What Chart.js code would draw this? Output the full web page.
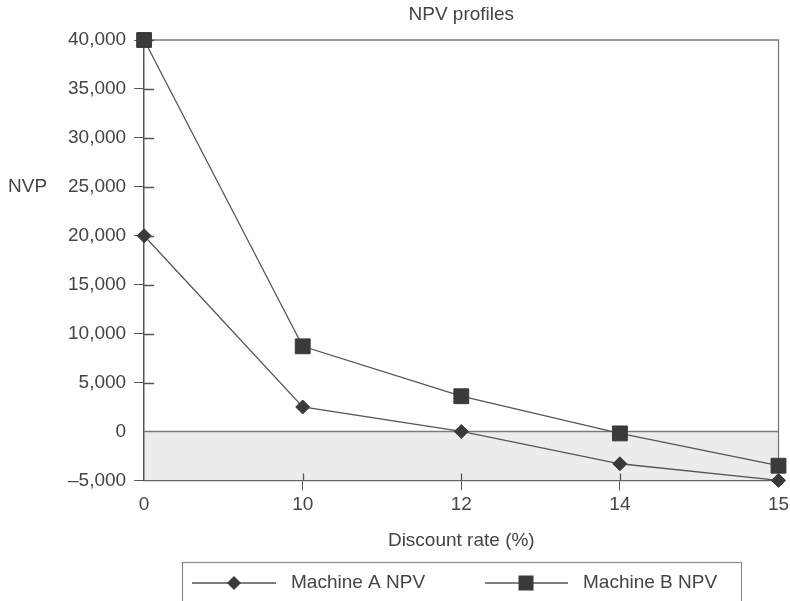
<!DOCTYPE html>
<html>
<head>
<meta charset="utf-8">
<title>NPV profiles</title>
<script src="https://cdn.jsdelivr.net/npm/chart.js"></script>
<style>
  body { margin: 0; background: #fff; }
  #wrap { width: 790px; height: 601px; position: relative; }
</style>
</head>
<body>
<div id="wrap"><canvas id="npvChart"></canvas></div>
<script>
// Discount rates (categories) and NPV values
const rates = ['0', '10', '12', '14', '15'];
const machineA = [20000, 2500, 0, -3300, -5000];
const machineB = [40000, 8700, 3600, -200, -3500];
const yMin = -5000;
const yMax = 40000;
const yStep = 5000;
const chartTitle = 'NPV profiles';

const textColor = '#444';
const lineColor = '#555';
const markColor = '#3a3a3a';

Chart.defaults.font.family = '"Liberation Sans", Arial, sans-serif';
Chart.defaults.font.size = 19;
Chart.defaults.color = textColor;

function fmt(v) {
    const s = Math.abs(v).toLocaleString('en-US');
    return v < 0 ? '\u2013' + s : s;
}

// shaded negative zone, plot frame, inner tick marks, titles and legend
const decorPlugin = {
    id: 'decor',
    beforeDraw(chart) {
        const { ctx, chartArea: a, scales: { y } } = chart;
        const y0 = y.getPixelForValue(0);
        const y1 = y.getPixelForValue(yMin);
        ctx.save();
        ctx.fillStyle = '#ececec';
        ctx.fillRect(a.left, y0, a.right - a.left, y1 - y0);
        ctx.restore();
    },
    beforeDatasetsDraw(chart) {
        const { ctx, chartArea: a, scales: { x, y } } = chart;
        ctx.save();
        ctx.strokeStyle = '#7a7a7a';
        ctx.lineWidth = 1.3;
        // top + right frame
        ctx.beginPath();
        ctx.moveTo(a.left, a.top);
        ctx.lineTo(a.right, a.top);
        ctx.lineTo(a.right, a.bottom);
        ctx.stroke();
        // zero line
        const y0 = Math.round(y.getPixelForValue(0)) + 0.5;
        ctx.beginPath();
        ctx.moveTo(a.left, y0);
        ctx.lineTo(a.right, y0);
        ctx.stroke();
        // inner ticks
        ctx.strokeStyle = '#555';
        ctx.beginPath();
        y.ticks.forEach(t => {
            if (t.value === 0 || t.value === yMin) return;
            const py = Math.round(y.getPixelForValue(t.value)) + 0.5;
            ctx.moveTo(a.left, py);
            ctx.lineTo(a.left + 10, py);
        });
        for (let i = 1; i < rates.length - 1; i++) {
            const px = Math.round(x.getPixelForValue(i)) + 0.5;
            ctx.moveTo(px, a.bottom);
            ctx.lineTo(px, a.bottom - 7);
        }
        ctx.stroke();
        ctx.restore();
    },
    afterDraw(chart) {
        const { ctx, chartArea: a, scales: { y } } = chart;
        ctx.save();
        ctx.fillStyle = textColor;
        ctx.font = '19px "Liberation Sans", Arial, sans-serif';
        ctx.textBaseline = 'middle';

        // title centred over the plot area
        ctx.textAlign = 'center';
        ctx.fillText(chartTitle, (a.left + a.right) / 2, 15);

        ctx.textAlign = 'left';
        ctx.fillText('NVP', 8, y.getPixelForValue(25000));

        // legend box
        ctx.strokeStyle = '#8a8a8a';
        ctx.lineWidth = 1.2;
        ctx.strokeRect(182.5, 562.5, 559, 60);
        const ly = 583;
        const items = [
            { label: chart.data.datasets[0].label, x1: 192, x2: 276, mx: 234, tx: 291, style: 'diamond' },
            { label: chart.data.datasets[1].label, x1: 485, x2: 568, mx: 526, tx: 583, style: 'square' }
        ];
        items.forEach(it => {
            ctx.strokeStyle = lineColor;
            ctx.lineWidth = 1.3;
            ctx.beginPath();
            ctx.moveTo(it.x1, ly);
            ctx.lineTo(it.x2, ly);
            ctx.stroke();
            ctx.fillStyle = markColor;
            ctx.beginPath();
            if (it.style === 'diamond') {
                ctx.moveTo(it.mx, ly - 7);
                ctx.lineTo(it.mx + 7, ly);
                ctx.lineTo(it.mx, ly + 7);
                ctx.lineTo(it.mx - 7, ly);
                ctx.closePath();
            } else {
                ctx.rect(it.mx - 7.5, ly - 7.5, 15, 15);
            }
            ctx.fill();
            ctx.fillStyle = textColor;
            ctx.fillText(it.label, it.tx, ly);
        });
        ctx.restore();
    }
};

const hideEdge = (ctx) => (ctx.index === 0 || ctx.index === rates.length - 1) ? 'rgba(0,0,0,0)' : '#555';

new Chart(document.getElementById('npvChart'), {
    type: 'line',
    data: {
        labels: rates,
        datasets: [{
            label: 'Machine A NPV',
            data: machineA,
            borderColor: lineColor,
            borderWidth: 1.3,
            pointStyle: 'rectRot',
            pointRadius: 7,
            pointBackgroundColor: markColor,
            pointBorderColor: markColor,
            pointBorderWidth: 1,
            tension: 0,
            clip: false
        }, {
            label: 'Machine B NPV',
            data: machineB,
            borderColor: lineColor,
            borderWidth: 1.3,
            pointStyle: 'rect',
            pointRadius: 10.5,
            pointBackgroundColor: markColor,
            pointBorderColor: markColor,
            pointBorderWidth: 1,
            tension: 0,
            clip: false
        }]
    },
    options: {
        responsive: true,
        maintainAspectRatio: false,
        animation: false,
        layout: {
            padding: { left: 60, right: 11, top: 40, bottom: 49 }
        },
        plugins: {
            legend: { display: false },
            tooltip: { enabled: false },
            title: { display: false }
        },
        scales: {
            x: {
                offset: false,
                afterFit: (s) => { s.paddingRight = 0; },
                grid: {
                    drawOnChartArea: false,
                    drawTicks: true,
                    tickLength: 10,
                    color: hideEdge
                },
                border: { color: '#666', width: 1.3 },
                ticks: { padding: 3, color: textColor, maxRotation: 0 },
                title: {
                    display: true,
                    text: 'Discount rate (%)',
                    color: textColor,
                    padding: { top: 10, bottom: 0 }
                }
            },
            y: {
                min: yMin,
                max: yMax,
                grid: {
                    drawOnChartArea: false,
                    drawTicks: true,
                    tickLength: 10,
                    color: (ctx) => ctx.tick && ctx.tick.value === 0 ? 'rgba(0,0,0,0)' : '#555'
                },
                border: { color: '#555', width: 1.5 },
                ticks: {
                    stepSize: yStep,
                    padding: 8,
                    color: textColor,
                    callback: (v) => fmt(v)
                }
            }
        }
    },
    plugins: [decorPlugin]
});
</script>
</body>
</html>
